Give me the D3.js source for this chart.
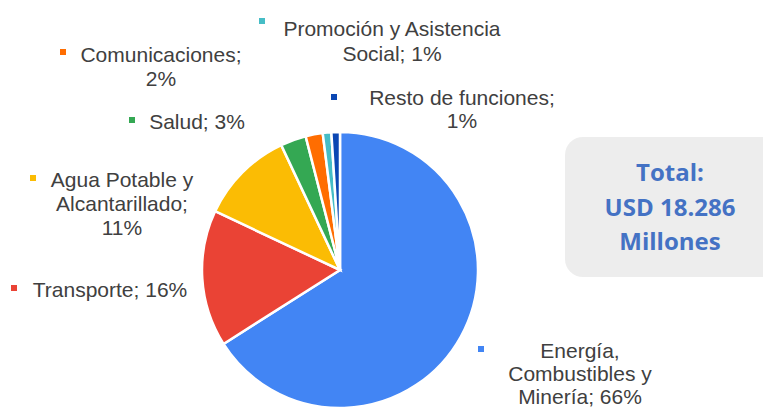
<!DOCTYPE html>
<html>
<head>
  <meta charset="utf-8">
  <script src="https://d3js.org/d3.v7.min.js"></script>
  <style>
    body { margin: 0; background: #fff; }
    .label { font-family: "Liberation Sans", Arial, sans-serif; font-size: 21px; fill: #404040; text-anchor: middle; }
    .total { font-family: "Open Sans", "Liberation Sans", sans-serif; font-weight: bold; font-size: 24px; fill: #4472C4; text-anchor: middle; }
  </style>
</head>
<body>
  <svg id="chart" width="763" height="408"></svg>
  <script>
    // Datos
    const categories = ["Energía, Combustibles y Minería", "Transporte", "Agua Potable y Alcantarillado",
                        "Salud", "Comunicaciones", "Promoción y Asistencia Social", "Resto de funciones"];
    const values = [66, 16, 11, 3, 2, 1, 1];
    const colors = ["#4285F4", "#EA4335", "#FBBC04", "#34A853", "#FF6D01", "#46BDC6", "#0B47B3"];
    const totalLines = ["Total:", "USD 18.286", "Millones"];

    // Cortes de línea de las etiquetas (como en el original)
    const labelLines = [
      ["Energía,", "Combustibles y", "Minería; 66%"],
      ["Transporte; 16%"],
      ["Agua Potable y", "Alcantarillado;", "11%"],
      ["Salud; 3%"],
      ["Comunicaciones;", "2%"],
      ["Promoción y Asistencia", "Social; 1%"],
      ["Resto de funciones;", "1%"]
    ];
    // posición del texto (centro, baseline de la 1ª línea) y del marcador
    const labelPos = [
      { x: 580, y: 358, dy: 23, mx: 481, my: 349 },
      { x: 110, y: 297, dy: 24, mx: 14, my: 288 },
      { x: 122, y: 187, dy: 24, mx: 33, my: 178 },
      { x: 197, y: 129, dy: 24, mx: 132, my: 120 },
      { x: 161, y: 62, dy: 24, mx: 63, my: 52 },
      { x: 392, y: 36, dy: 25, mx: 262, my: 21 },
      { x: 462, y: 105, dy: 23, mx: 334, my: 97 }
    ];

    const svg = d3.select("#chart");
    const cx = 340, cy = 270, r = 138;

    const pie = d3.pie().sort(null).value(d => d)(values);
    const arc = d3.arc().innerRadius(0).outerRadius(r);

    svg.append("g")
      .attr("transform", `translate(${cx},${cy})`)
      .selectAll("path")
      .data(pie)
      .join("path")
      .attr("d", arc)
      .attr("fill", (d, i) => colors[i])
      .attr("stroke", "#fff")
      .attr("stroke-width", 2.5);

    // Etiquetas
    labelLines.forEach((lines, i) => {
      const p = labelPos[i];
      svg.append("rect")
        .attr("x", p.mx - 3).attr("y", p.my - 3)
        .attr("width", 6).attr("height", 6)
        .attr("fill", colors[i]);
      const t = svg.append("text").attr("class", "label").attr("x", p.x).attr("y", p.y);
      lines.forEach((l, j) => {
        t.append("tspan").attr("x", p.x).attr("dy", j === 0 ? 0 : p.dy).text(l);
      });
    });

    // Caja del total
    svg.append("rect")
      .attr("x", 565).attr("y", 137)
      .attr("width", 230).attr("height", 140)
      .attr("rx", 18)
      .attr("fill", "#EDEDED");

    const tt = svg.append("text").attr("class", "total").attr("x", 670).attr("y", 181);
    totalLines.forEach((l, j) => {
      tt.append("tspan").attr("x", 670).attr("dy", j === 0 ? 0 : 34.5).text(l);
    });
  </script>
</body>
</html>
